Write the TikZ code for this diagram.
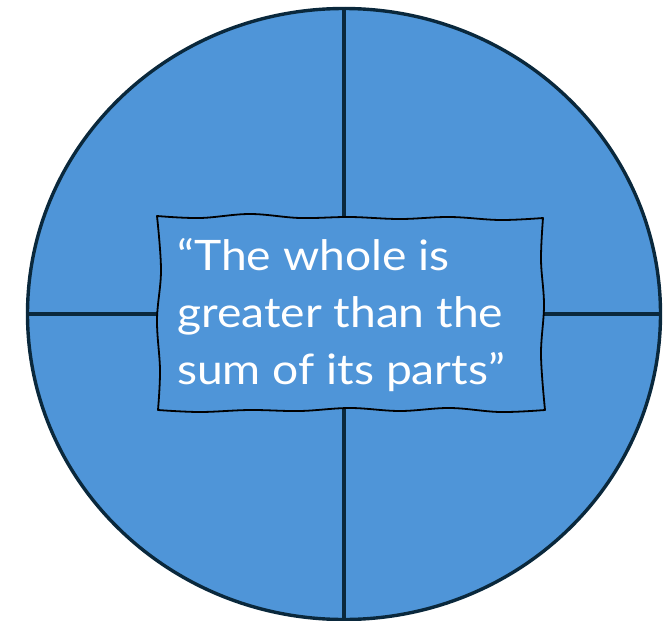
\documentclass[tikz,border=0pt]{standalone}
\usepackage{fontspec}
\setmainfont{Lato}[FakeStretch=1.1]
\usetikzlibrary{shapes.geometric}
\definecolor{diskblue}{RGB}{79,149,216}
\definecolor{diskline}{RGB}{10,40,60}
\tikzset{
  disk/.style={ellipse, fill=diskblue, draw=diskline, line width=3.4pt, inner sep=0pt,
    minimum width=633pt, minimum height=611pt},
  divider/.style={draw=diskline, line width=3.2pt},
  wavybox/.style={fill=diskblue, draw=black, line width=1.8pt, line join=round},
  quotetext/.style={text=white, align=left, inner sep=0pt, font=\fontsize{42}{57}\selectfont}
}
\begin{document}
\begin{tikzpicture}[x=1pt, y=-1pt]
\useasboundingbox (0,0) rectangle (664,621);
\node[disk] (d) at (344,314) {};
\draw[divider] (d.north) -- (d.south);
\draw[divider] (d.west) -- (d.east);
\draw[wavybox] plot[smooth, tension=0.6] coordinates {
  (157,216) (200,218) (250,214) (300,218) (350,217) (400,219) (450,217) (500,220) (543,218)}
  -- plot[smooth, tension=0.6] coordinates {(543,218) (541,260) (544,305) (541,355) (545,410)}
  -- plot[smooth, tension=0.6] coordinates {(545,410) (500,412) (450,408) (400,411) (350,408) (300,411) (250,410) (200,412) (158,410)}
  -- plot[smooth, tension=0.6] coordinates {(158,410) (160,370) (157,320) (161,270) (157,216)} -- cycle;
\node[quotetext, anchor=north west] (q) at (177,238) {“The whole is\\greater than the\\sum of its parts”};
\end{tikzpicture}
\end{document}
